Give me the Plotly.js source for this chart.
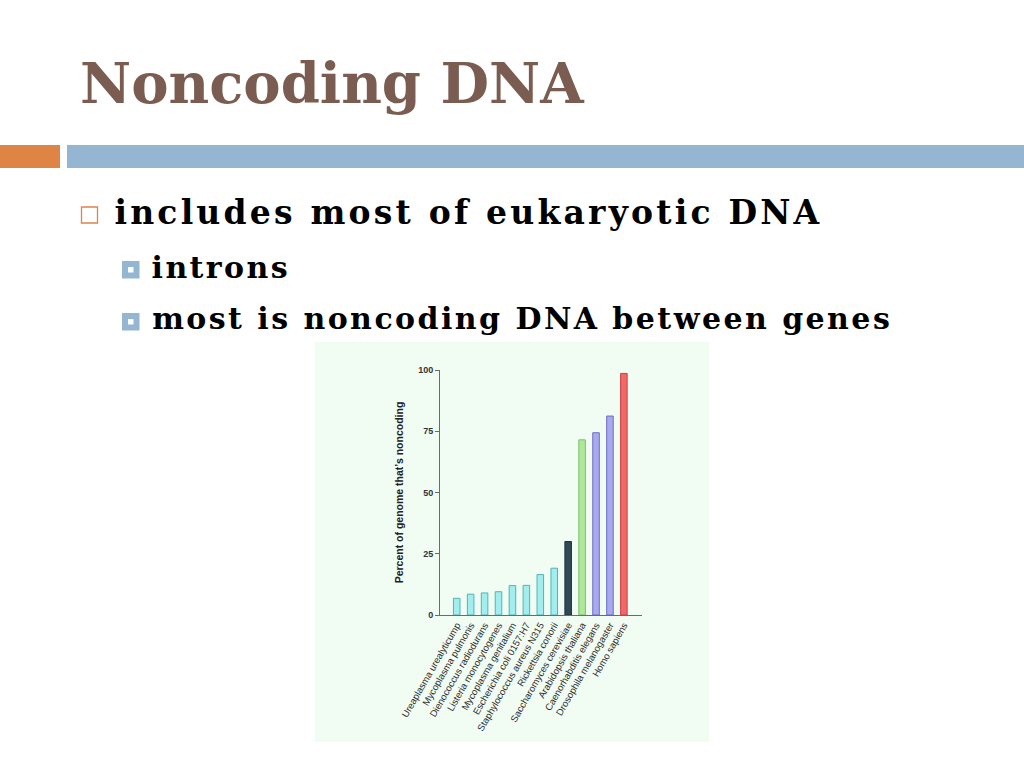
<!DOCTYPE html>
<html>
<head>
<meta charset="utf-8">
<script src="https://cdn.plot.ly/plotly-3.0.1.min.js"></script>
<style>
html,body{margin:0;padding:0;background:#fff}
#chart{width:1024px;height:768px}
.annotation[data-index="1"] text{letter-spacing:3.2px}
.annotation[data-index="2"] text{letter-spacing:2.4px}
.annotation[data-index="3"] text{letter-spacing:2.45px}
</style>
</head>
<body>
<div id="chart"></div>
<script>
// ---- data ----
const species = [
  "Ureaplasma urealyticump",
  "Mycoplasma pulmonis",
  "Dienococcus radiodurans",
  "Listeria monocytogenes",
  "Mycoplasma genitalium",
  "Escherichia coli 0157:H7",
  "Staphylococcus aureus N315",
  "Rickettsia conorii",
  "Saccharomyces cerevisiae",
  "Arabidopsis thaliana",
  "Caenorhabditis elegans",
  "Drosophila melanogaster",
  "Homo sapiens"
];
const percentNoncoding = [6.8, 8.5, 9.0, 9.5, 12.0, 12.1, 16.5, 19.1, 30.0, 71.5, 74.4, 81.2, 98.6];
const groups = ["bact","bact","bact","bact","bact","bact","bact","bact","yeast","plant","animal","animal","human"];
const yTicks = [0, 25, 50, 75, 100];

const slideTitle = "Noncoding DNA";
const bullet1 = "includes most of eukaryotic DNA";
const subBullets = ["introns", "most is noncoding DNA between genes"];

// ---- styles ----
const fillFor = {bact:"#a2eeee", yeast:"#2f4a55", plant:"#aee99a", animal:"#a9a9f0", human:"#f26767"};
const lineFor = {bact:"#52b4b4", yeast:"#1e333b", plant:"#7cbf6c", animal:"#6d6dc6", human:"#c84444"};

const W = 1024, H = 768;
const px = x => x / W;
const py = y => 1 - y / H;

const trace = {
  type: "bar",
  x: species,
  y: percentNoncoding,
  marker: {
    color: groups.map(g => fillFor[g]),
    line: {color: groups.map(g => lineFor[g]), width: 1}
  },
  hoverinfo: "x+y"
};

const serif = "DejaVu Serif";
const shapes = [
  // mint figure panel
  {type:"rect", xref:"paper", yref:"paper", x0:px(315), x1:px(709), y0:py(742), y1:py(342),
   fillcolor:"#f1fcf3", line:{width:0}, layer:"below"},
  // header bars
  {type:"rect", xref:"paper", yref:"paper", x0:px(0), x1:px(60), y0:py(168), y1:py(145),
   fillcolor:"#de8445", line:{width:0}},
  {type:"rect", xref:"paper", yref:"paper", x0:px(67), x1:px(1024), y0:py(168), y1:py(145),
   fillcolor:"#94b6d2", line:{width:0}},
  // level-1 bullet (hollow orange square)
  {type:"rect", xref:"paper", yref:"paper", x0:px(81.5), x1:px(97.5), y0:py(223), y1:py(207),
   fillcolor:"rgba(0,0,0,0)", line:{color:"#de8445", width:1.3}},
  // level-2 bullets (blue square with small white centre)
  {type:"rect", xref:"paper", yref:"paper", x0:px(125), x1:px(136.5), y0:py(275.5), y1:py(264),
   fillcolor:"#ffffff", line:{color:"#94b6d2", width:6}},
  {type:"rect", xref:"paper", yref:"paper", x0:px(125), x1:px(136.5), y0:py(327.5), y1:py(316),
   fillcolor:"#ffffff", line:{color:"#94b6d2", width:6}}
];

const annotations = [
  {text: slideTitle, xref:"paper", yref:"paper", x:px(78), y:py(83), xanchor:"left", yanchor:"middle",
   showarrow:false, font:{family:serif, size:56, color:"#7a5d50", weight:"bold"}},
  {text: bullet1, xref:"paper", yref:"paper", x:px(468.5), y:py(212), xanchor:"center", yanchor:"middle",
   showarrow:false, font:{family:serif, size:33, color:"#000", weight:"bold"}},
  {text: subBullets[0], xref:"paper", yref:"paper", x:px(220.5), y:py(267), xanchor:"center", yanchor:"middle",
   showarrow:false, font:{family:serif, size:30, color:"#000", weight:"bold"}},
  {text: subBullets[1], xref:"paper", yref:"paper", x:px(521.5), y:py(319), xanchor:"center", yanchor:"middle",
   showarrow:false, font:{family:serif, size:30, color:"#000", weight:"bold"}}
];

const layout = {
  width: W, height: H,
  margin: {l:0, r:0, t:0, b:0},
  paper_bgcolor: "#ffffff",
  plot_bgcolor: "rgba(0,0,0,0)",
  showlegend: false,
  bargap: 0.53,
  font: {family:"Liberation Sans, Arial, sans-serif", color:"#333"},
  xaxis: {
    domain: [px(440), px(642)],
    range: [-1.2, 13.3],
    showgrid: false, zeroline: false,
    showline: true, linecolor: "#6b6b6b", linewidth: 1,
    ticks: "", tickangle: -60,
    tickfont: {size: 9.5, color: "#2a2a2a"},
    fixedrange: true
  },
  yaxis: {
    domain: [py(615), py(370)],
    range: [0, 100],
    tickvals: yTicks,
    showgrid: false, zeroline: false,
    showline: true, linecolor: "#6b6b6b", linewidth: 1,
    ticks: "outside", ticklen: 4, tickcolor: "#6b6b6b",
    tickfont: {size: 9, color: "#333", weight: "bold"},
    title: {text: "Percent of genome that\u2019s noncoding", standoff: 12,
            font: {size: 10.5, color: "#222", weight: "bold"}},
    fixedrange: true
  },
  shapes: shapes,
  annotations: annotations
};

Plotly.newPlot("chart", [trace], layout, {displayModeBar:false, staticPlot:true});
</script>
</body>
</html>
